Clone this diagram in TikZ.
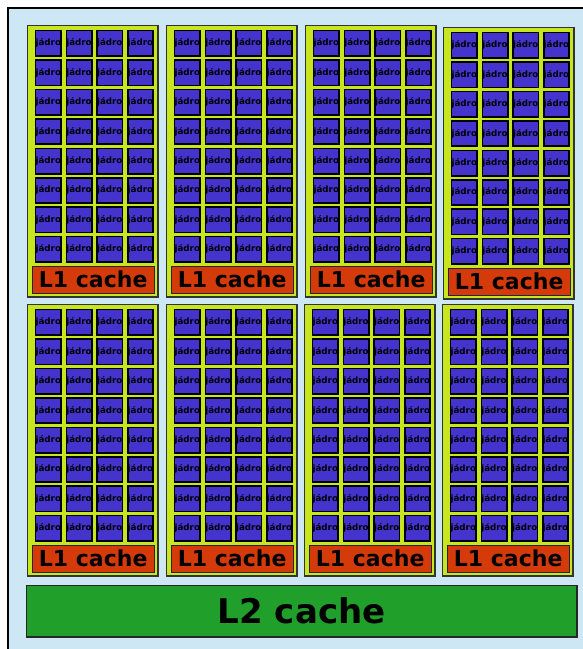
\documentclass[tikz,border=0pt]{standalone}
\usepackage{fontspec}
\setmainfont{DejaVu Sans}
\definecolor{bgblue}{HTML}{CDE7F4}
\definecolor{smgreen}{HTML}{C8E620}
\definecolor{coreblue}{HTML}{4433CC}
\definecolor{l1red}{HTML}{D53A0A}
\definecolor{l2green}{HTML}{20A02B}
\tikzset{
  frame/.style={draw=black, line width=2.6pt, fill=bgblue},
  smbox/.style={draw=black!80, line width=1.3pt, fill=smgreen, anchor=north west,
    minimum width=130.7pt, minimum height=271.7pt, inner sep=0pt},
  corebox/.style={draw=black, line width=1.6pt, fill=coreblue, anchor=north west,
    minimum width=25.4pt, minimum height=25.4pt, inner sep=0pt,
    font=\bfseries\fontsize{8.7}{9}\selectfont, text=black},
  l1box/.style={draw=black!85, line width=1.2pt, fill=l1red, anchor=north west,
    minimum width=122pt, minimum height=27pt, inner sep=0pt,
    font=\bfseries\fontsize{22}{22}\selectfont},
  l2box/.style={draw=black!85, line width=1.2pt, fill=l2green, anchor=north west,
    minimum width=550.8pt, minimum height=51.8pt, inner sep=0pt,
    font=\bfseries\fontsize{34}{34}\selectfont},
}
\begin{document}
\begin{tikzpicture}[x=1pt,y=-1pt]
\useasboundingbox (0,0) rectangle (583,649);
\draw[frame] (8,8) rectangle (640,700);
\foreach \bx/\by [count=\b] in {26/24, 165/24, 304/24, 442/26, 26/303, 165/303, 303/303, 441/303} {
  \node[smbox] (sm\b) at (\bx+0.6,\by+0.6) {};
  \foreach \i in {0,...,3} {
    \foreach \j in {0,...,7} {
      \node[corebox] (c\b-\i-\j) at (\bx+8.8+30.7*\i, \by+5.8+29.43*\j) {jádro};
    }
  }
  \node[l1box] (l1-\b) at (\bx+5.6,\by+241.6) {L1 cache};
}
\node[l2box] (l2) at (25.6,584.6) {L2 cache};
\end{tikzpicture}
\end{document}
